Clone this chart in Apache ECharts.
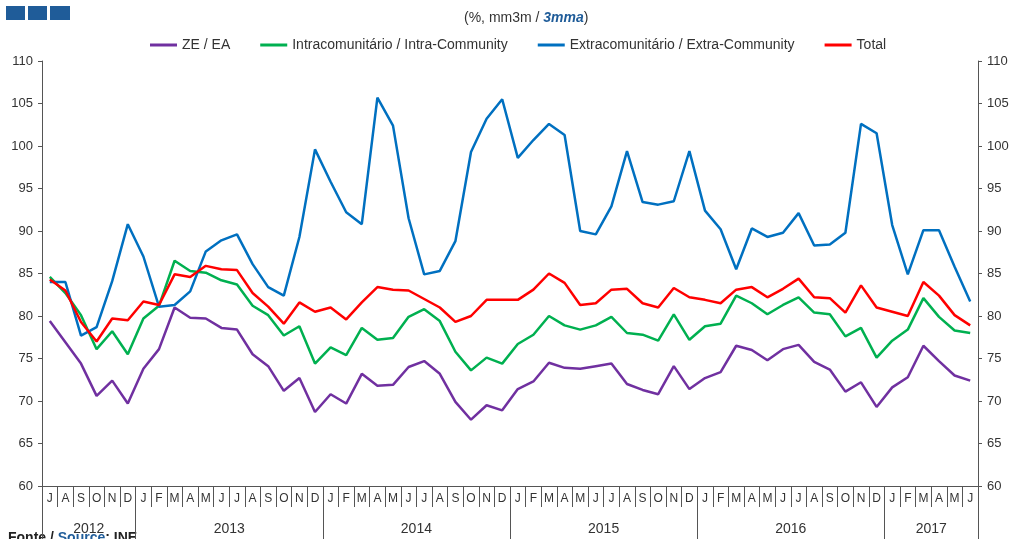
<!DOCTYPE html>
<html>
<head>
<meta charset="utf-8">
<script src="https://cdn.jsdelivr.net/npm/echarts@6/dist/echarts.min.js"></script>
<style>
  html, body { margin: 0; padding: 0; background: #fff; }
  #chart { width: 1016px; height: 539px; }
</style>
</head>
<body>
<div id="chart"></div>
<script>
// months Jul 2012 .. Jun 2017
const monthLabels = [
  'J','A','S','O','N','D',
  'J','F','M','A','M','J','J','A','S','O','N','D',
  'J','F','M','A','M','J','J','A','S','O','N','D',
  'J','F','M','A','M','J','J','A','S','O','N','D',
  'J','F','M','A','M','J','J','A','S','O','N','D',
  'J','F','M','A','M','J'
];
const years = ['2012', '2013', '2014', '2015', '2016', '2017'];
const monthsPerYear = [6, 12, 12, 12, 12, 6];

const zeEa = [
  79.4, 76.9, 74.4, 70.6, 72.4, 69.7,
  73.8, 76.1, 81.0, 79.8, 79.7, 78.6, 78.4, 75.5, 74.1, 71.2, 72.7, 68.7,
  70.8, 69.7, 73.2, 71.8, 71.9, 74.0, 74.7, 73.2, 69.9, 67.8, 69.5, 68.9,
  71.4, 72.3, 74.5, 73.9, 73.8, 74.1, 74.4, 72.0, 71.3, 70.8, 74.1, 71.4,
  72.7, 73.4, 76.5, 76.0, 74.8, 76.1, 76.6, 74.6, 73.7, 71.1, 72.2, 69.3,
  71.6, 72.8, 76.5, 74.7, 73.0, 72.4
];
const intra = [
  84.6, 82.7, 80.1, 76.1, 78.2, 75.5,
  79.7, 81.2, 86.5, 85.3, 85.1, 84.2, 83.7, 81.2, 80.1, 77.7, 78.8, 74.4,
  76.3, 75.4, 78.6, 77.2, 77.4, 79.9, 80.8, 79.4, 75.8, 73.6, 75.1, 74.4,
  76.7, 77.8, 80.0, 78.9, 78.4, 78.9, 79.9, 78.0, 77.8, 77.1, 80.2, 77.2,
  78.8, 79.1, 82.4, 81.5, 80.2, 81.3, 82.2, 80.4, 80.2, 77.6, 78.6, 75.1,
  77.1, 78.4, 82.1, 79.9, 78.3, 78.0
];
const extra = [
  84.0, 84.0, 77.7, 78.7, 84.1, 90.8,
  87.0, 81.1, 81.3, 82.9, 87.6, 88.9, 89.6, 86.1, 83.4, 82.4, 89.3, 99.6,
  95.8, 92.2, 90.8, 105.7, 102.4, 91.5, 84.9, 85.3, 88.8, 99.3, 103.2, 105.5,
  98.6, 100.7, 102.6, 101.3, 90.0, 89.6, 92.9, 99.4, 93.4, 93.1, 93.5, 99.4,
  92.4, 90.2, 85.5, 90.3, 89.3, 89.8, 92.1, 88.3, 88.4, 89.8, 102.6, 101.5,
  90.7, 84.9, 90.1, 90.1, 85.8, 81.7
];
const total = [
  84.3, 83.0, 79.3, 77.0, 79.7, 79.5,
  81.7, 81.3, 84.9, 84.6, 85.9, 85.5, 85.4, 82.7, 81.1, 79.1, 81.6, 80.5,
  81.0, 79.6, 81.6, 83.4, 83.1, 83.0, 82.0, 81.0, 79.3, 80.0, 81.9, 81.9,
  81.9, 83.1, 85.0, 83.9, 81.3, 81.5, 83.1, 83.2, 81.5, 81.0, 83.3, 82.2,
  81.9, 81.5, 83.1, 83.4, 82.2, 83.2, 84.4, 82.2, 82.1, 80.4, 83.6, 81.0,
  80.5, 80.0, 84.0, 82.4, 80.1, 78.9
];

// year row: one entry per month, ticks at year starts, label at year middle
const yearOfMonth = [];
const yearStarts = [];
const yearCenters = [];
years.forEach((y, i) => {
  yearStarts.push(yearOfMonth.length);
  yearCenters.push(yearOfMonth.length + monthsPerYear[i] / 2);
  for (let k = 0; k < monthsPerYear[i]; k++) yearOfMonth.push(y);
});

const axisColor = '#555';
const textColor = '#333';
const font = 'Liberation Sans, Arial, sans-serif';
const band = (1016 - 42 - 38) / monthLabels.length;

const yAxisBase = {
  type: 'value',
  min: 60,
  max: 110,
  interval: 5,
  axisLine: { show: true, lineStyle: { color: axisColor, width: 1 } },
  axisTick: { show: true, length: 4, lineStyle: { color: axisColor } },
  splitLine: { show: false },
  axisLabel: { color: textColor, fontSize: 13, fontFamily: font, margin: 9 }
};

const chart = echarts.init(document.getElementById('chart'));
chart.setOption({
  animation: false,
  backgroundColor: '#fff',
  title: {
    left: 459,
    top: 6,
    text: '{n|(%, mm3m / }{b|3mma}{n|)}',
    textStyle: {
      fontWeight: 'normal',
      rich: {
        n: { fontSize: 14, fontFamily: font, color: '#333', fontWeight: 'normal' },
        b: { fontSize: 14, fontFamily: font, color: '#1F5C99', fontWeight: 'bold', fontStyle: 'italic' }
      }
    }
  },
  legend: {
    left: 145,
    top: 33,
    icon: 'rect',
    itemWidth: 27,
    itemHeight: 3,
    itemGap: 30,
    textStyle: { fontSize: 14, fontFamily: font, color: '#333' },
    data: ['ZE / EA', 'Intracomunitário / Intra-Community', 'Extracomunitário / Extra-Community', 'Total']
  },
  grid: { left: 42, right: 38, top: 61, bottom: 53, outerBoundsMode: 'none' },
  xAxis: [
    {
      type: 'category',
      data: monthLabels,
      boundaryGap: true,
      position: 'bottom',
      axisLine: { show: true, lineStyle: { color: axisColor } },
      axisTick: { show: true, interval: 0, length: 21, lineStyle: { color: axisColor } },
      axisLabel: { interval: 0, margin: 7, fontSize: 12, fontFamily: font, color: textColor }
    },
    {
      type: 'category',
      data: yearOfMonth,
      boundaryGap: true,
      position: 'bottom',
      axisLine: { show: false },
      axisTick: {
        show: true,
        length: 53,
        interval: (i) => yearStarts.indexOf(i) >= 0,
        lineStyle: { color: axisColor }
      },
      axisLabel: {
        interval: (i) => yearCenters.indexOf(i) >= 0,
        margin: 36,
        padding: [0, band, 0, 0],
        fontSize: 14,
        fontFamily: font,
        color: textColor
      }
    }
  ],
  yAxis: [
    Object.assign({}, yAxisBase, { position: 'left' }),
    Object.assign({}, yAxisBase, { position: 'right' })
  ],
  graphic: [
    { type: 'rect', left: 6, top: 6, shape: { width: 19, height: 14 }, style: { fill: '#1F5C99' } },
    { type: 'rect', left: 28, top: 6, shape: { width: 19, height: 14 }, style: { fill: '#1F5C99' } },
    { type: 'rect', left: 50, top: 6, shape: { width: 20, height: 14 }, style: { fill: '#1F5C99' } },
    {
      type: 'text',
      left: 8,
      top: 531,
      style: {
        text: '{k|Fonte / }{s|Source}{k|: INE}',
        rich: {
          k: { fontSize: 14, fontWeight: 'bold', fontFamily: font, fill: '#222' },
          s: { fontSize: 14, fontWeight: 'bold', fontFamily: font, fill: '#1F5C99' }
        }
      }
    }
  ],
  series: [
    { name: 'ZE / EA', data: zeEa, color: '#7030A0' },
    { name: 'Intracomunitário / Intra-Community', data: intra, color: '#00B050' },
    { name: 'Extracomunitário / Extra-Community', data: extra, color: '#0070C0' },
    { name: 'Total', data: total, color: '#FF0000' }
  ].map(s => ({
    type: 'line',
    name: s.name,
    data: s.data,
    xAxisIndex: 0,
    yAxisIndex: 0,
    showSymbol: false,
    symbol: 'none',
    itemStyle: { color: s.color },
    lineStyle: { color: s.color, width: 2.5 },
    emphasis: { disabled: true }
  }))
});
</script>
</body>
</html>
